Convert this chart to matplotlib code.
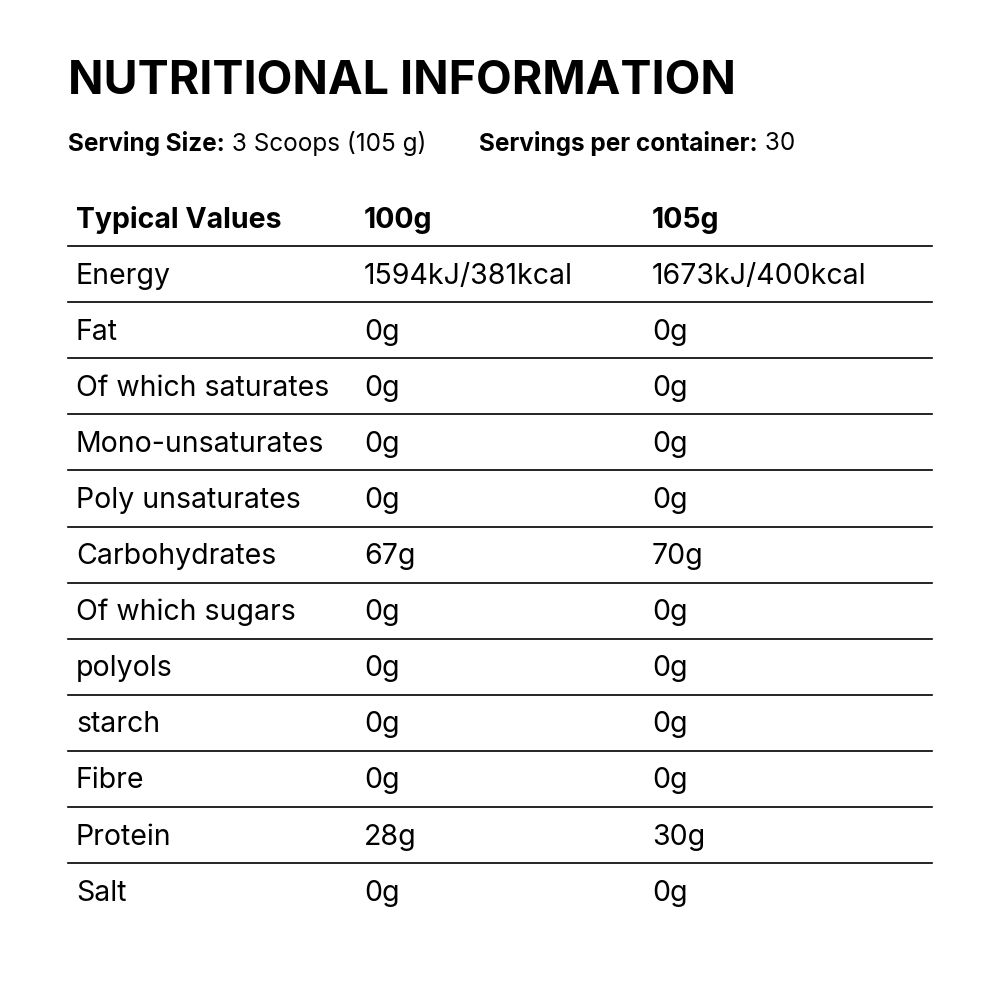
import matplotlib
matplotlib.use("Agg")
import matplotlib.pyplot as plt

title = "NUTRITIONAL INFORMATION"
serving_size = "3 Scoops (105 g)"
servings = "30"
headers = ["Typical Values", "100g", "105g"]
nutrients = ["Energy", "Fat", "Of which saturates", "Mono-unsaturates", "Poly unsaturates",
             "Carbohydrates", "Of which sugars", "polyols", "starch", "Fibre", "Protein", "Salt"]
per100 = ["1594kJ/381kcal", "0g", "0g", "0g", "0g", "67g", "0g", "0g", "0g", "0g", "28g", "0g"]
per105 = ["1673kJ/400kcal", "0g", "0g", "0g", "0g", "70g", "0g", "0g", "0g", "0g", "30g", "0g"]

FONT = ["Inter", "DejaVu Sans"]
fig = plt.figure(figsize=(10, 10), dpi=100)
ax = fig.add_axes([0, 0, 1, 1])
ax.set_xlim(0, 1000); ax.set_ylim(1000, 0); ax.axis("off")

ax.text(68, 82, title, fontsize=33.5, fontweight="bold", family=FONT, va="center", ha="left")
t = ax.text(68, 143, "Serving Size:", fontsize=17.5, fontweight="bold", family=FONT, va="center")
ax.annotate(" " + serving_size, xycoords=t, xy=(1, 0.5), va="center", fontsize=17.5, family=FONT)
t2 = ax.text(479, 143, "Servings per container:", fontsize=17.5, fontweight="bold", family=FONT, va="center")
ax.annotate(" " + servings, xycoords=t2, xy=(1, 0.5), va="center", fontsize=17.5, family=FONT)

cols = [76, 364, 652]
for x, h in zip(cols, headers):
    ax.text(x, 220, h, fontsize=20.5, fontweight="bold", family=FONT, va="center")
y0 = 246; step = 56.1
ax.plot([68, 932], [y0, y0], color="black", lw=1.2)
for i, (n, a, b) in enumerate(zip(nutrients, per100, per105)):
    yc = y0 + step * (i + 0.5) + 2
    for x, s in zip(cols, [n, a, b]):
        ax.text(x, yc, s, fontsize=20.5, family=FONT, va="center")
    if i < len(nutrients) - 1:
        yl = y0 + step * (i + 1)
        ax.plot([68, 932], [yl, yl], color="black", lw=1.2)
fig.savefig("out.png", dpi=100, facecolor="white")
